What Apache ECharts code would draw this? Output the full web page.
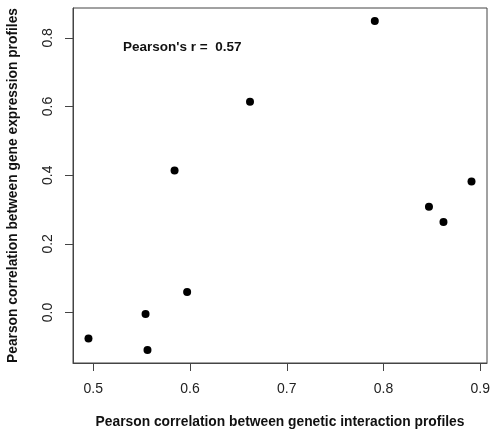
<!DOCTYPE html>
<html>
<head>
    <meta charset="utf-8">
    <title>Genetic vs expression correlation</title>
    <script src="https://cdn.jsdelivr.net/npm/echarts@6/dist/echarts.min.js"></script>
</head>
<body style="margin:0;">
    <div id="main" style="width:491px;height:435px;"></div>

    <script type="text/javascript">
        // correlation between genetic interaction profiles (x) and gene expression profiles (y)
        var geneticCorr = [0.495, 0.554, 0.556, 0.584, 0.597, 0.662, 0.791, 0.847, 0.862, 0.891];
        var expressionCorr = [-0.076, -0.004, -0.109, 0.414, 0.060, 0.614, 0.849, 0.308, 0.264, 0.382];
        var xTicks = [0.5, 0.6, 0.7, 0.8, 0.9];
        var yTicks = [0.0, 0.2, 0.4, 0.6, 0.8];
        var xRange = [0.479, 0.907];
        var yRange = [-0.147, 0.887];
        var annotation = "Pearson's r =  0.57";

        var points = [];
        for (var i = 0; i < geneticCorr.length; i++) {
            points.push([geneticCorr[i], expressionCorr[i]]);
        }

        var font = 'Liberation Sans, Arial, Helvetica, sans-serif';

        var myChart = echarts.init(document.getElementById('main'));
        option = {
            backgroundColor: '#fff',
            animation: false,
            title: {
                text: annotation,
                left: 118,
                top: 35,
                textStyle: {fontFamily: font, fontSize: 13.5, fontWeight: 'bold', color: '#111'}
            },
            grid: {
                left: 73, right: 4, top: 8, bottom: 72,
                show: true,
                borderColor: '#444',
                borderWidth: 1,
                outerBoundsMode: 'none'
            },
            xAxis: {
                type: 'value',
                min: xRange[0],
                max: xRange[1],
                name: 'Pearson correlation between genetic interaction profiles',
                nameLocation: 'middle',
                nameGap: 52,
                nameTextStyle: {fontFamily: font, fontSize: 13.8, fontWeight: 'bold', color: '#111'},
                splitLine: {show: false},
                axisLine: {show: true, onZero: false, lineStyle: {color: '#444'}},
                axisTick: {show: true, length: 8, customValues: xTicks, lineStyle: {color: '#444'}},
                axisLabel: {
                    customValues: xTicks,
                    margin: 19,
                    fontFamily: font, fontSize: 14, color: '#222',
                    formatter: function (v) { return v.toFixed(1); }
                }
            },
            yAxis: {
                type: 'value',
                min: yRange[0],
                max: yRange[1],
                name: 'Pearson correlation between gene expression profiles',
                nameLocation: 'middle',
                nameGap: 53,
                nameTextStyle: {fontFamily: font, fontSize: 13.8, fontWeight: 'bold', color: '#111'},
                splitLine: {show: false},
                axisLine: {show: true, onZero: false, lineStyle: {color: '#444'}},
                axisTick: {show: true, length: 8, customValues: yTicks, lineStyle: {color: '#444'}},
                axisLabel: {
                    customValues: yTicks,
                    rotate: 90,
                    margin: 18,
                    fontFamily: font, fontSize: 14, color: '#222',
                    formatter: function (v) { return v.toFixed(1); }
                }
            },
            series: [{
                type: 'scatter',
                data: points,
                symbol: 'circle',
                symbolSize: 8,
                itemStyle: {color: '#000', opacity: 1}
            }]
        };
        myChart.setOption(option);
    </script>
</body>
</html>
